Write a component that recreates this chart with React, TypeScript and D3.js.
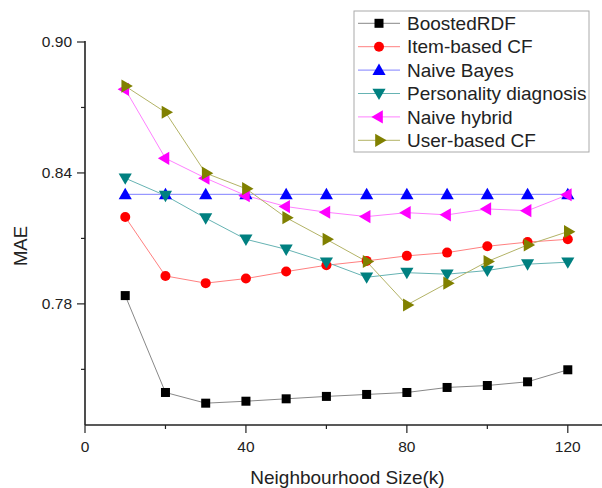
import React from "react";
import * as d3 from "d3";

// neighbourhood sizes (k)
const kValues = [10, 20, 30, 40, 50, 60, 70, 80, 90, 100, 110, 120];

const boostedRDF = [0.7838, 0.7394, 0.7345, 0.7354, 0.7365, 0.7376, 0.7385, 0.7394, 0.7417, 0.7426, 0.7443, 0.7498];
const itemBasedCF = [0.8198, 0.7928, 0.7895, 0.7916, 0.7948, 0.7977, 0.7997, 0.802, 0.8035, 0.8064, 0.8083, 0.8096];
const naiveBayes = [0.8302, 0.8302, 0.8302, 0.8302, 0.8302, 0.8302, 0.8302, 0.8302, 0.8302, 0.8302, 0.8302, 0.8302];
const personality = [0.8376, 0.8296, 0.8193, 0.8096, 0.805, 0.7991, 0.7922, 0.7943, 0.7936, 0.7953, 0.7982, 0.7991];
const naiveHybrid = [0.8783, 0.8467, 0.8376, 0.8296, 0.8246, 0.822, 0.82, 0.8218, 0.8208, 0.8235, 0.8227, 0.83];
const userBasedCF = [0.8798, 0.8678, 0.8399, 0.8328, 0.8195, 0.8096, 0.7994, 0.7795, 0.7895, 0.7994, 0.807, 0.8131];

const yTickLabels = ["0.78", "0.84", "0.90"];
const xTickLabels = ["0", "40", "80", "120"];

const series = [
  { name: "BoostedRDF", values: boostedRDF, color: "#000000", line: "#888888", marker: "square" },
  { name: "Item-based CF", values: itemBasedCF, color: "#ff0000", line: "#ff8080", marker: "circle" },
  { name: "Naive Bayes", values: naiveBayes, color: "#0000ff", line: "#8080ff", marker: "up" },
  { name: "Personality diagnosis", values: personality, color: "#008080", line: "#66b3b3", marker: "down" },
  { name: "Naive hybrid", values: naiveHybrid, color: "#ff00ff", line: "#ff80ff", marker: "left" },
  { name: "User-based CF", values: userBasedCF, color: "#808000", line: "#b3b366", marker: "right" },
];

const W = 602;
const H = 488;
const margin = { left: 85, right: 0, top: 42, bottom: 63 };
const font = "'Liberation Sans', Arial, sans-serif";

function Marker({ type, x, y, color }: { type: string; x: number; y: number; color: string }) {
  if (type === "square") {
    return <rect x={x - 4.5} y={y - 4.5} width={9} height={9} fill={color} />;
  }
  if (type === "circle") {
    return <circle cx={x} cy={y} r={5} fill={color} />;
  }
  const tri = d3.symbol(d3.symbolTriangle, 75)() as string;
  const rot = { up: 0, down: 180, left: -90, right: 90 }[type] ?? 0;
  const dy = type === "up" ? 1 : type === "down" ? -1 : 0;
  return <path d={tri} fill={color} transform={`translate(${x},${y + dy}) rotate(${rot})`} />;
}

export default function App() {
  const x = d3.scaleLinear().domain([0, 128.5]).range([margin.left, W - margin.right]);
  const y = d3.scaleLinear().domain([0.7245, 0.9]).range([H - margin.bottom, margin.top]);
  const x0 = margin.left;
  const yBase = y.range()[0];

  const line = d3
    .line<number>()
    .x((_, i) => x(kValues[i]))
    .y((d) => y(d));

  const yMajor = yTickLabels.map(Number);
  const yMinor = [0.75, 0.81, 0.87];
  const xMajor = xTickLabels.map(Number);
  const xMinor = [20, 60, 100];

  const legendX = 354;
  const legendY = 11;
  const rowH = 23.4;

  return (
    <svg
      width={W}
      height={H}
      style={{ position: "absolute", left: 0, top: 0, background: "#fff" }}
      fontFamily={font}
    >
      {/* lines */}
      {series.map((s) => (
        <path key={s.name} d={line(s.values) as string} fill="none" stroke={s.line} strokeWidth={1} />
      ))}
      {series.map((s) =>
        s.values.map((v, i) => (
          <Marker key={s.name + i} type={s.marker} x={x(kValues[i])} y={y(v)} color={s.color} />
        ))
      )}

      {/* axes */}
      <line x1={x0} x2={x0} y1={y(0.9) - 1} y2={yBase} stroke="#222" strokeWidth={1.6} />
      <line x1={x0} x2={W} y1={yBase} y2={yBase} stroke="#222" strokeWidth={1.6} />
      {yMajor.map((v, i) => (
        <g key={"ym" + v}>
          <line x1={x0 - 8} x2={x0} y1={y(v)} y2={y(v)} stroke="#222" strokeWidth={1.2} />
          <text x={x0 - 13} y={y(v)} dy="0.35em" textAnchor="end" fontSize={15.5} fill="#222">
            {yTickLabels[i]}
          </text>
        </g>
      ))}
      {yMinor.map((v) => (
        <line key={"yn" + v} x1={x0 - 4} x2={x0} y1={y(v)} y2={y(v)} stroke="#222" strokeWidth={1.2} />
      ))}
      {xMajor.map((v, i) => (
        <g key={"xm" + v}>
          <line x1={x(v)} x2={x(v)} y1={yBase} y2={yBase + 8} stroke="#222" strokeWidth={1.2} />
          <text x={x(v)} y={yBase + 22} dy="0.35em" textAnchor="middle" fontSize={15.5} fill="#222">
            {xTickLabels[i]}
          </text>
        </g>
      ))}
      {xMinor.map((v) => (
        <line key={"xn" + v} x1={x(v)} x2={x(v)} y1={yBase} y2={yBase + 4} stroke="#222" strokeWidth={1.2} />
      ))}

      <text x={347.5} y={477} dy="0.35em" textAnchor="middle" fontSize={19} fill="#222">
        Neighbourhood Size(k)
      </text>
      <text
        transform={`translate(21,246) rotate(-90)`}
        dy="0.35em"
        textAnchor="middle"
        fontSize={18.5}
        fill="#222"
      >
        MAE
      </text>

      {/* legend */}
      <rect x={legendX} y={legendY} width={235} height={141} fill="#fff" stroke="#aaa" strokeWidth={1} />
      {series.map((s, i) => {
        const cy = legendY + 12.3 + i * rowH;
        return (
          <g key={"lg" + s.name}>
            <line x1={358} x2={400} y1={cy} y2={cy} stroke={s.line} strokeWidth={1} />
            <Marker type={s.marker} x={379} y={cy} color={s.color} />
            <text x={407} y={cy} dy="0.35em" fontSize={19} fill="#222">
              {s.name}
            </text>
          </g>
        );
      })}
    </svg>
  );
}
